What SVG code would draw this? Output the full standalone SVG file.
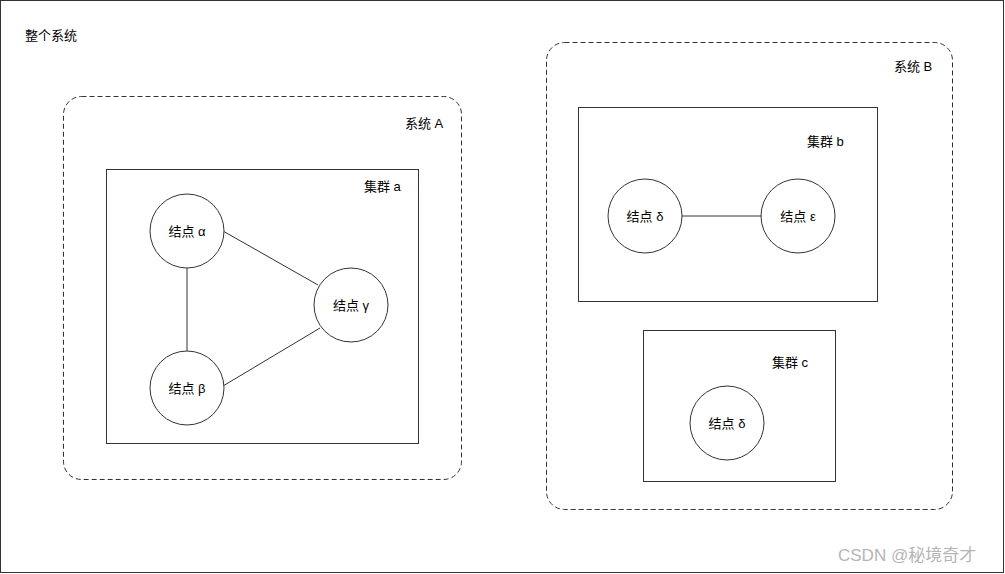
<svg xmlns="http://www.w3.org/2000/svg" width="1005" height="574" viewBox="0 0 1005 574">
<style>
text{font-family:"Liberation Sans","Noto Sans CJK SC",sans-serif;font-size:13px;fill:#000}
.sys{fill:none;stroke:#333;stroke-dasharray:5,3}
.cl{fill:#fff;stroke:#333}
circle{fill:#fff;stroke:#333}
.nl{text-anchor:middle}
#connectors line{stroke:#333}
</style>
<rect x="0.5" y="0.5" width="1003" height="572" fill="#fff" stroke="#333"/>
<text x="25" y="40">整个系统</text>
<g id="systemA"><rect class="sys" x="63.5" y="96.5" width="398" height="383" rx="18"/><text x="405" y="128">系统 A</text></g>
<g id="clusterA"><rect class="cl" x="106.5" y="169.5" width="312" height="274"/><text x="364" y="191">集群 a</text></g>
<g id="systemB"><rect class="sys" x="546.5" y="42.5" width="406" height="467" rx="18"/><text x="894" y="71">系统 B</text></g>
<g id="clusterB"><rect class="cl" x="578.5" y="107.5" width="299" height="194"/><text x="807" y="146">集群 b</text></g>
<g id="clusterC"><rect class="cl" x="643.5" y="330.5" width="192" height="151"/><text x="772" y="367">集群 c</text></g>
<g id="connectors">
<line x1="187" y1="268" x2="187" y2="351"/>
<line x1="223" y1="231" x2="318" y2="285"/>
<line x1="223" y1="386" x2="320" y2="328"/>
<line x1="682" y1="216" x2="761" y2="216"/>
</g>
<g id="nodeAlpha"><circle cx="187" cy="231" r="37"/><text class="nl" x="187" y="236">结点 α</text></g>
<g id="nodeBeta"><circle cx="187" cy="388" r="37"/><text class="nl" x="187" y="393">结点 β</text></g>
<g id="nodeGamma"><circle cx="351" cy="305" r="37"/><text class="nl" x="351" y="310">结点 γ</text></g>
<g id="nodeDelta1"><circle cx="645" cy="216" r="37"/><text class="nl" x="645" y="221">结点 δ</text></g>
<g id="nodeEpsilon"><circle cx="798" cy="216" r="37"/><text class="nl" x="798" y="221">结点 ε</text></g>
<g id="nodeDelta2"><circle cx="727" cy="423" r="37"/><text class="nl" x="727" y="428">结点 δ</text></g>
<text x="838" y="561" style="font-size:17px;fill:#b5b5b5">CSDN @秘境奇才</text>
</svg>
